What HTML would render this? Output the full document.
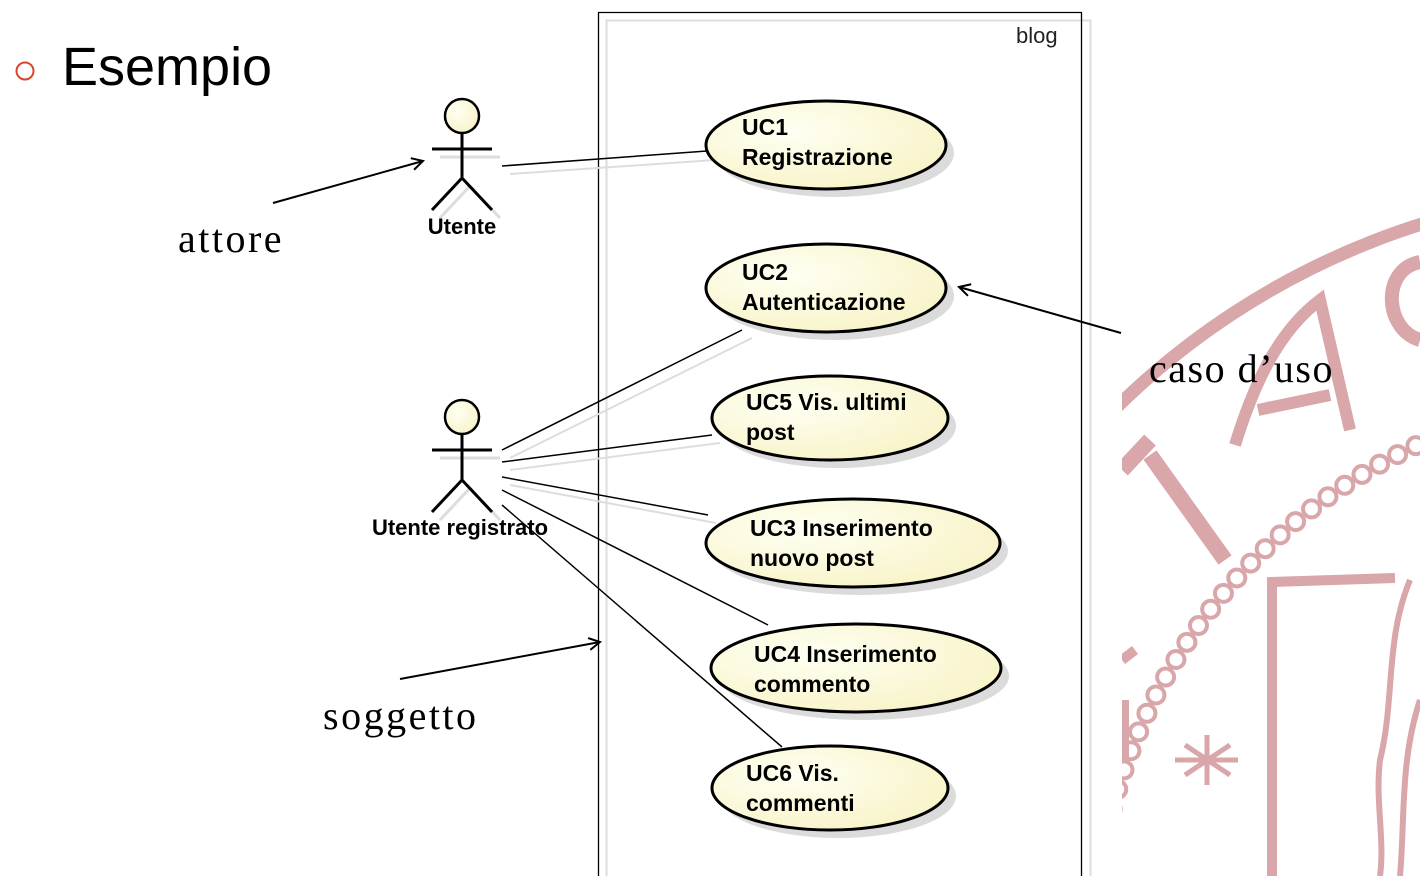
<!DOCTYPE html>
<html><head><meta charset="utf-8"><style>
html,body{margin:0;padding:0;background:#fff;width:1420px;height:876px;overflow:hidden}
svg{display:block}
</style></head><body>
<svg width="1420" height="876" viewBox="0 0 1420 876" xmlns="http://www.w3.org/2000/svg">
<defs>
<radialGradient id="g" cx="0.35" cy="0.35" r="0.8"><stop offset="0" stop-color="#fffff2"/><stop offset="1" stop-color="#f7f2c4"/></radialGradient>
<clipPath id="sc"><rect x="1122" y="0" width="300" height="876"/></clipPath>
<marker id="ar" markerWidth="14" markerHeight="14" refX="12" refY="7" orient="auto" markerUnits="userSpaceOnUse"><path d="M1,1 L12,7 L1,13" fill="none" stroke="#000" stroke-width="2"/></marker>
</defs>
<!-- seal -->
<g clip-path="url(#sc)" fill="none" stroke="#d9a6a9">
<circle cx="1650" cy="950" r="761" stroke-width="13"/>
<g id="beads" stroke-width="4"></g>
<path d="M1272 876 L1272 582 L1395 578" stroke-width="10"/>
<path d="M1122 470 L1150 440 M1150 455 L1225 560" stroke-width="16"/>
<path d="M1122 660 L1135 650 M1124 700 L1124 760" stroke-width="10"/>
<path d="M1235 445 C1255 380 1280 330 1320 300 L1350 430 M1258 410 L1330 395" stroke-width="12"/>
<path d="M1420 262 C1380 270 1385 330 1420 340" stroke-width="14"/>
<path d="M1185 745 L1230 775 M1175 760 L1238 760 M1185 775 L1230 745 M1207 735 L1207 785" stroke-width="5"/>
<path d="M1410 580 C1385 640 1395 700 1380 760 C1375 800 1385 840 1380 876 M1420 700 C1400 760 1405 820 1400 876" stroke-width="6"/>
</g>
<!-- boundary -->
<rect x="606.5" y="20.5" width="484" height="860" fill="none" stroke="#ddd" stroke-width="2"/>
<path d="M598.5 876 L598.5 12.5 L1081.5 12.5 L1081.5 876" fill="none" stroke="#000" stroke-width="1.3"/>
<text x="1016" y="43" font-family="Liberation Sans, sans-serif" font-size="22" fill="#222">blog</text>
<!-- Esempio -->
<circle cx="25" cy="71" r="8.5" fill="none" stroke="#d9462c" stroke-width="2"/>
<text x="62" y="85" font-family="Liberation Sans, sans-serif" font-size="54" fill="#000">Esempio</text>
<!-- shadow lines -->
<g stroke="#ddd" stroke-width="2" fill="none">
<line x1="510" y1="174" x2="715" y2="160"/>
<line x1="510" y1="458" x2="752" y2="338"/>
<line x1="510" y1="470" x2="720" y2="443"/>
<line x1="510" y1="485" x2="716" y2="523"/>
</g>
<!-- lines -->
<g stroke="#000" stroke-width="1.5" fill="none">
<line x1="502" y1="166" x2="707" y2="151"/>
<line x1="502" y1="450" x2="742" y2="330"/>
<line x1="502" y1="462" x2="712" y2="435"/>
<line x1="502" y1="477" x2="708" y2="515"/>
<line x1="502" y1="490" x2="768" y2="625"/>
<line x1="502" y1="505" x2="782" y2="747"/>
</g>
<!-- actors -->
<g fill="none" stroke="#ddd" stroke-width="3">
<line x1="440" y1="157" x2="500" y2="157"/><path d="M470 186 L440 218 M470 186 L500 218"/>
<line x1="440" y1="458" x2="500" y2="458"/><path d="M470 488 L440 520 M470 488 L500 520"/>
</g>
<g stroke="#000" stroke-width="3" fill="none">
<circle cx="462" cy="116" r="17" fill="url(#g)" stroke-width="2.5"/>
<line x1="432" y1="149" x2="492" y2="149"/><line x1="462" y1="133" x2="462" y2="178"/>
<path d="M462 178 L432 210 M462 178 L492 210"/>
<circle cx="462" cy="417" r="17" fill="url(#g)" stroke-width="2.5"/>
<line x1="432" y1="450" x2="492" y2="450"/><line x1="462" y1="434" x2="462" y2="480"/>
<path d="M462 480 L432 512 M462 480 L492 512"/>
</g>
<g font-family="Liberation Sans, sans-serif" font-size="22" font-weight="bold" fill="#000">
<text x="462" y="234" text-anchor="middle">Utente</text>
<text x="460" y="535" text-anchor="middle">Utente registrato</text>
</g>
<!-- use cases -->
<g fill="#ccc" opacity="0.7">
<ellipse cx="834" cy="153" rx="120" ry="44"/>
<ellipse cx="834" cy="296" rx="120" ry="44"/>
<ellipse cx="838" cy="426" rx="118" ry="42"/>
<ellipse cx="861" cy="551" rx="147" ry="44"/>
<ellipse cx="864" cy="676" rx="145" ry="44"/>
<ellipse cx="838" cy="796" rx="118" ry="42"/>
</g>
<g fill="url(#g)" stroke="#000" stroke-width="3">
<ellipse cx="826" cy="145" rx="120" ry="44"/>
<ellipse cx="826" cy="288" rx="120" ry="44"/>
<ellipse cx="830" cy="418" rx="118" ry="42"/>
<ellipse cx="853" cy="543" rx="147" ry="44"/>
<ellipse cx="856" cy="668" rx="145" ry="44"/>
<ellipse cx="830" cy="788" rx="118" ry="42"/>
</g>
<g font-family="Liberation Sans, sans-serif" font-size="23" font-weight="bold" fill="#000">
<text x="742" y="135">UC1</text><text x="742" y="165">Registrazione</text>
<text x="742" y="280">UC2</text><text x="742" y="310">Autenticazione</text>
<text x="746" y="410">UC5 Vis. ultimi</text><text x="746" y="440">post</text>
<text x="750" y="536">UC3 Inserimento</text><text x="750" y="566">nuovo post</text>
<text x="754" y="662">UC4 Inserimento</text><text x="754" y="692">commento</text>
<text x="746" y="781">UC6 Vis.</text><text x="746" y="811">commenti</text>
</g>
<!-- annotations -->
<g stroke="#000" stroke-width="2" fill="none">
<line x1="273" y1="203" x2="423" y2="161" marker-end="url(#ar)"/>
<line x1="1121" y1="333" x2="959" y2="287" marker-end="url(#ar)"/>
<line x1="400" y1="679" x2="600" y2="642" marker-end="url(#ar)"/>
</g>
<g font-family="Liberation Serif, serif" font-size="40" letter-spacing="2.5" fill="#000">
<text x="178" y="252">attore</text>
<text x="1149" y="382" letter-spacing="1.5">caso d’uso</text>
<text x="323" y="729">soggetto</text>
</g>
</svg>
<script>
(function(){var g=document.getElementById('beads');var cx=1650,cy=950,r=556;
for(var a=180;a<=290;a+=2.1){var t=a*Math.PI/180;var c=document.createElementNS('http://www.w3.org/2000/svg','circle');
c.setAttribute('cx',cx+r*Math.cos(t));c.setAttribute('cy',cy+r*Math.sin(t));c.setAttribute('r',8.5);g.appendChild(c);}})();
</script>
</body></html>
